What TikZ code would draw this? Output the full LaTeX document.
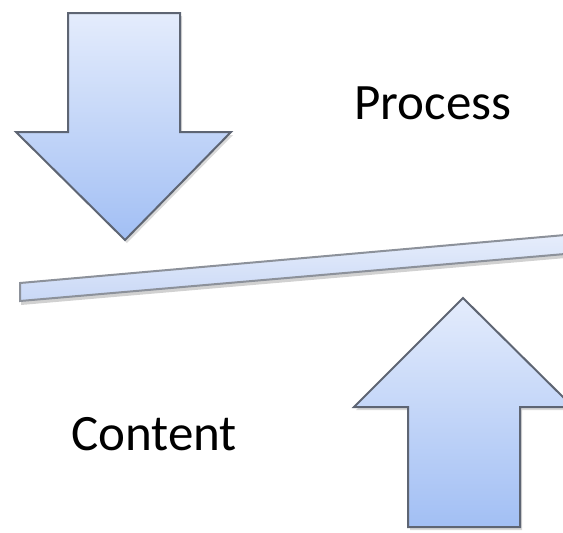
\documentclass[tikz,border=0pt]{standalone}
\usepackage{fontspec}
\setmainfont{Carlito}
\usetikzlibrary{shadows}
\definecolor{arrtop}{HTML}{E4ECFC}
\definecolor{arrbot}{HTML}{A2BFF4}
\definecolor{arredge}{HTML}{5E6573}
\definecolor{bartop}{HTML}{E6EDFB}
\definecolor{barbot}{HTML}{C9D8F6}
\definecolor{baredge}{HTML}{8C919A}
\tikzset{
  bigarrow/.style={draw=arredge, line width=2pt, line join=miter, top color=arrtop, bottom color=arrbot,
    drop shadow={shadow xshift=2pt, shadow yshift=-3pt, opacity=0.25, fill=black!60}},
  barshape/.style={draw=baredge, line width=2pt, top color=bartop, bottom color=barbot,
    drop shadow={shadow xshift=1pt, shadow yshift=-4pt, opacity=0.3, fill=black!60}},
  label/.style={font=\fontsize{51}{60}\selectfont, text=black, inner sep=0pt}
}
\begin{document}
\begin{tikzpicture}[x=1pt, y=-1pt]
\useasboundingbox (0,0) rectangle (563,533);
% down arrow
\path[bigarrow] (68,13) -- (180,13) -- (180,132) -- (231,132) -- (125,240) -- (16,132) -- (68,132) -- cycle;
% bar
\path[barshape] (20,283) -- (565,235) -- (565,254) -- (20,301) -- cycle;
% up arrow
\path[bigarrow] (408,527) -- (520,527) -- (520,407) -- (566,407) -- (566,400) -- (463,298) -- (354,407) -- (408,407) -- cycle;
\node[label] (process) at (433,103) {Process};
\node[label] (content) at (154,434) {Content};
\end{tikzpicture}
\end{document}
